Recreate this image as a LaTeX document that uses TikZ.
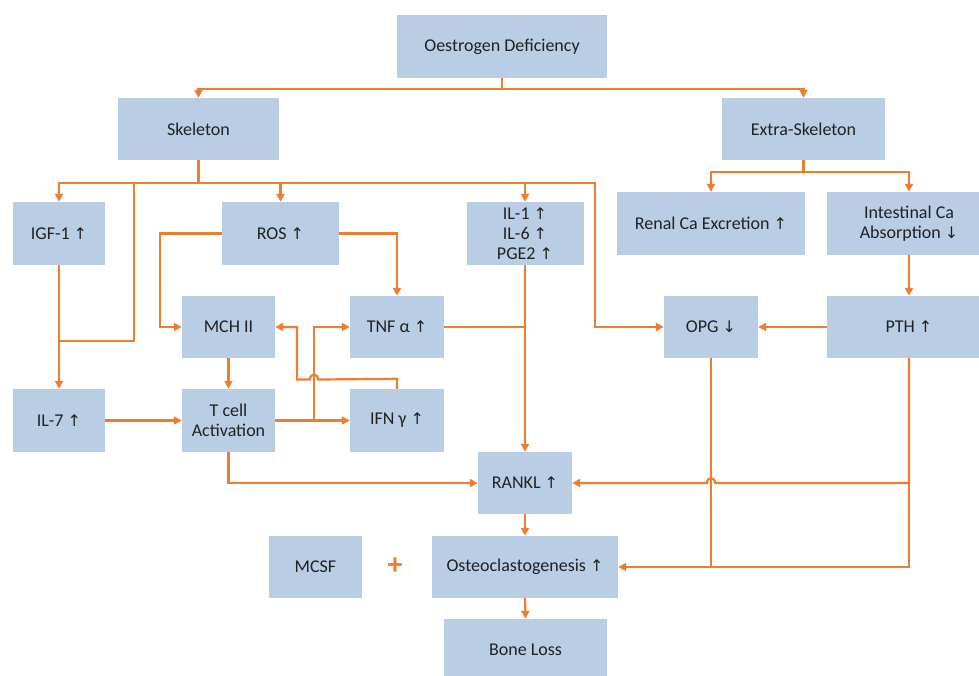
\documentclass[tikz,border=0pt]{standalone}
\usepackage{fontspec}
\setmainfont{Carlito}
\newfontfamily\arrowfont{DejaVu Sans}
\usetikzlibrary{arrows.meta}
\definecolor{boxblue}{HTML}{B9CDE5}
\definecolor{lineorange}{HTML}{ED7D31}
\definecolor{txt}{HTML}{222222}
\newcommand{\upar}{{\arrowfont\fontsize{16}{16}\selectfont ↑}}
\newcommand{\dnar}{{\arrowfont\fontsize{16}{16}\selectfont ↓}}
\begin{document}
\begin{tikzpicture}[x=1pt,y=-1pt,
  box/.style={fill=boxblue, inner sep=0pt, align=center, text=txt,
    font=\fontsize{18}{20}\selectfont},
  ln/.style={draw=lineorange, line width=2.2pt},
  arr/.style={ln, -{Triangle[length=8pt,width=8pt]}}]
\clip (0,0) rectangle (979,675);
\fill[white] (0,0) rectangle (979,675);
% nodes
\node[box, minimum width=210, minimum height=63] (oes) at (502,46.5) {Oestrogen Deficiency};
\node[box, minimum width=161, minimum height=62] (skel) at (198.5,129) {Skeleton};
\node[box, minimum width=163, minimum height=62] (extra) at (803.5,129) {Extra-Skeleton};
\node[box, minimum width=92, minimum height=63] (igf) at (59,233.5) {IGF-1 \upar};
\node[box, minimum width=117, minimum height=63] (ros) at (280.5,233.5) {ROS \upar};
\node[box, minimum width=117, minimum height=63] (il1) at (525,233.5) {IL-1 \upar\\IL-6 \upar\\PGE2 \upar};
\node[box, minimum width=188, minimum height=63] (renal) at (711,223.5) {Renal Ca Excretion \upar};
\node[box, minimum width=164, minimum height=63] (intest) at (909,223.5) {Intestinal Ca\\Absorption \dnar};
\node[box, minimum width=93, minimum height=62] (mch) at (228.5,327) {MCH II};
\node[box, minimum width=94, minimum height=62] (tnf) at (397,327) {TNF α \upar};
\node[box, minimum width=94, minimum height=62] (opg) at (711,327) {OPG \dnar};
\node[box, minimum width=164, minimum height=62] (pth) at (909,327) {PTH \upar};
\node[box, minimum width=92, minimum height=63] (il7) at (59,420.5) {IL-7 \upar};
\node[box, minimum width=93, minimum height=63] (tcell) at (228.5,420.5) {T cell\\Activation};
\node[box, minimum width=94, minimum height=63] (ifn) at (397,420.5) {IFN γ \upar};
\node[box, minimum width=94, minimum height=62] (rankl) at (525,483) {RANKL \upar};
\node[box, minimum width=93, minimum height=62] (mcsf) at (315.5,567) {MCSF};
\node[box, minimum width=186, minimum height=62] (osteo) at (525,567) {Osteoclastogenesis \upar};
\node[box, minimum width=163, minimum height=62] (bone) at (525.5,650) {Bone Loss};
\node[text=lineorange, font=\fontsize{30}{30}\selectfont\bfseries] (plus) at (395,566) {+};
% junction coordinates
\coordinate (sj) at (198.5,183);
\coordinate (oj) at (595,183);
\coordinate (ij) at (134,341);
\coordinate (tj) at (314,420.5);
% connectors from top
\draw[arr] (oes.south) -- ++(0,11) -| (skel.north);
\draw[arr] (oes.south) -- ++(0,11) -| (extra.north);
\draw[arr] (skel.south) -- (sj) -| (igf.north);
\draw[arr] (sj) -| (ros.north);
\draw[arr] (sj) -| (il1.north);
\draw[arr] (sj) -- (oj) |- (opg.west);
\draw[ln] (sj) -| (ij) -- (igf.south |- ij);
\draw[arr] (igf.south) -- (il7.north);
\draw[arr] (extra.south) -- ++(0,12) -| (renal.north);
\draw[arr] (extra.south) -- ++(0,12) -| (intest.north);
\draw[arr] (intest.south) -- (pth.north);
\draw[arr] (pth.west) -- (opg.east);
% ROS
\draw[arr] (ros.west) -- ++(-62,0) |- (mch.west);
\draw[arr] (ros.east) -| (tnf.north);
% IL-1 and TNF to RANKL
\draw[arr] (il1.south) -- (rankl.north);
\draw[ln] (tnf.east) -- (tnf.east -| il1.south);
% T cell region
\draw[arr] (mch.south) -- (tcell.north);
\draw[arr] (il7.east) -- (tcell.west);
\draw[arr] (tcell.east) -- (ifn.west);
\draw[arr] (tj) |- (tnf.west);
\draw[arr] (ifn.north) -- ++(0,-10) -- (318,379.5) .. controls (318,373) and (310,373) .. (310,379.5) -- (297,379.5) |- (mch.east);
\draw[arr] (tcell.south) |- (rankl.west);
% OPG, PTH
\draw[arr] (opg.south) |- (osteo.east);
\draw[ln] (pth.south) |- (opg.south |- osteo.east);
\draw[arr] (pth.south) -- (pth.south |- rankl.east) -- (715,483) .. controls (715,476.5) and (707,476.5) .. (707,483) -- (rankl.east);
% bottom chain
\draw[arr] (rankl.south) -- (osteo.north);
\draw[arr] (osteo.south) -- (bone.north);
\end{tikzpicture}
\end{document}
